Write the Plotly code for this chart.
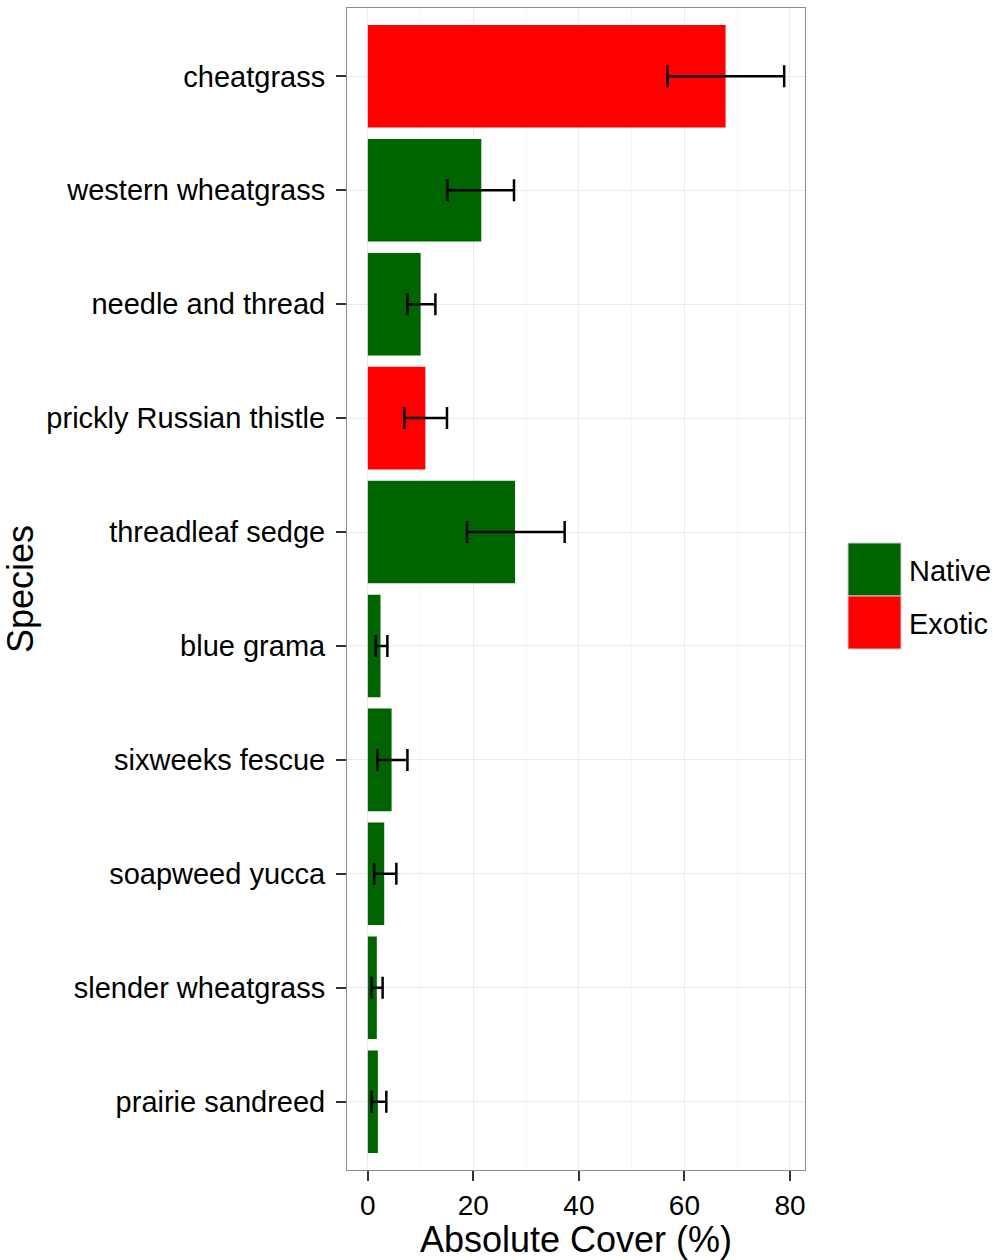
import plotly.graph_objects as go

# Species ordered top to bottom as displayed
species = ["cheatgrass", "western wheatgrass", "needle and thread",
           "prickly Russian thistle", "threadleaf sedge", "blue grama",
           "sixweeks fescue", "soapweed yucca", "slender wheatgrass",
           "prairie sandreed"]
origin = ["Exotic", "Native", "Native", "Exotic", "Native", "Native",
          "Native", "Native", "Native", "Native"]
cover = [67.8, 21.5, 10.0, 10.9, 27.9, 2.4, 4.5, 3.1, 1.7, 1.9]
err_low = [56.8, 15.1, 7.5, 6.9, 18.8, 1.5, 1.8, 1.2, 0.7, 0.7]
err_high = [78.9, 27.7, 12.8, 15.0, 37.3, 3.7, 7.5, 5.4, 2.8, 3.5]

groups = ["Native", "Exotic"]
group_colors = {"Native": "#006400", "Exotic": "#FF0000"}

FONT = "Liberation Sans, Arial, sans-serif"
W, H = 993, 1260
ML, MR, MT, MB = 347, 188, 8, 90
PW, PH = W - ML - MR, H - MT - MB


def px_x(p):
    return (p - ML) / PW


def px_y(p):
    return (H - MB - p) / PH


fig = go.Figure()
for g in groups:
    idx = [i for i, o in enumerate(origin) if o == g]
    fig.add_trace(go.Bar(
        orientation="h",
        y=[species[i] for i in idx],
        x=[cover[i] for i in idx],
        width=0.9,
        name=g,
        marker=dict(color=group_colors[g], line=dict(width=0)),
        error_x=dict(
            type="data", symmetric=False,
            array=[err_high[i] - cover[i] for i in idx],
            arrayminus=[cover[i] - err_low[i] for i in idx],
            color="black", thickness=2.5, width=11,
        ),
        showlegend=False,
    ))

# Legend keys and labels
for k, g in enumerate(groups):
    y0 = 543 + k * 53
    fig.add_shape(type="rect", xref="paper", yref="paper",
                  x0=px_x(848), x1=px_x(901), y0=px_y(y0 + 53), y1=px_y(y0),
                  fillcolor=group_colors[g], line=dict(color="#cccccc", width=1))
    fig.add_annotation(xref="paper", yref="paper", x=px_x(907), y=px_y(y0 + 28),
                       text=g, showarrow=False, xanchor="left", yanchor="middle",
                       font=dict(family=FONT, size=29, color="black"))

fig.update_layout(
    width=W, height=H,
    margin=dict(l=ML, r=MR, t=MT, b=MB),
    paper_bgcolor="white", plot_bgcolor="white",
    barmode="overlay",
    font=dict(family=FONT, color="black"),
    xaxis=dict(
        range=[-3.95, 82.85], tickvals=[0, 20, 40, 60, 80],
        showgrid=True, gridcolor="#EBEBEB", gridwidth=1,
        minor=dict(dtick=10, tick0=0, showgrid=True, gridcolor="#F7F7F7", gridwidth=1),
        zeroline=False, showline=True, mirror=True, linecolor="#8c8c8c", linewidth=1,
        ticks="outside", ticklen=10, tickcolor="#333333", tickwidth=2,
        tickfont=dict(family=FONT, size=28, color="black"),
        title=dict(text="Absolute Cover (%)", standoff=4,
                   font=dict(family=FONT, size=36, color="black")),
        automargin=False,
    ),
    yaxis=dict(
        categoryorder="array", categoryarray=species,
        range=[9.6, -0.6],
        showgrid=True, gridcolor="#EBEBEB", gridwidth=1,
        zeroline=False, showline=True, mirror=True, linecolor="#8c8c8c", linewidth=1,
        ticks="outside", ticklen=10, tickcolor="#333333", tickwidth=2,
        ticklabelstandoff=5,
        tickfont=dict(family=FONT, size=29, color="black"),
        title=dict(text="Species", standoff=10,
                   font=dict(family=FONT, size=36, color="black")),
        automargin=False,
    ),
)

fig.write_html("out.html")
